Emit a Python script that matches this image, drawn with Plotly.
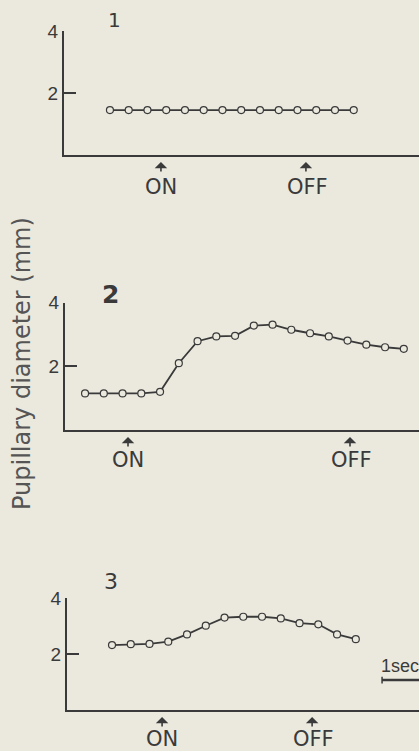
import plotly.graph_objects as go

# ---------------- data ----------------
panel_labels = ["1", "2", "3"]

sample_idx_1 = list(range(14))
diam_1 = [1.45, 1.45, 1.45, 1.45, 1.45, 1.45, 1.45, 1.45, 1.45, 1.45, 1.45, 1.45, 1.45, 1.45]

sample_idx_2 = list(range(18))
diam_2 = [1.15, 1.15, 1.15, 1.15, 1.20, 2.10, 2.79, 2.94, 2.96, 3.28, 3.31, 3.15,
          3.04, 2.94, 2.81, 2.68, 2.60, 2.55]

sample_idx_3 = list(range(14))
diam_3 = [2.32, 2.35, 2.36, 2.44, 2.70, 3.01, 3.30, 3.33, 3.33, 3.27, 3.10, 3.06, 2.70, 2.53]

on_times = [2.72, 2.29, 2.67]
off_times = [10.45, 14.13, 10.67]
y_ticks = [2, 4]
y_tick_text = ["2", "4"]
y_title = "Pupillary diameter (mm)"
scale_label = "1sec"

# ---------------- style ----------------
W, H = 419, 751
BG = "#ebe9de"
INK = "#3a3a3a"
TXT = "#3a3a3a"
FONT = "DejaVu Sans"
TICKFONT = "Liberation Sans"


def py(px):
    return 1 - px / H


def pxx(px):
    return px / W


panels = [
    dict(x=sample_idx_1, y=diam_1, xdom=[pxx(64), 1], ydom=[py(155), py(31)], xr=[-2.45, 16.48], tshift=-32),
    dict(x=sample_idx_2, y=diam_2, xdom=[pxx(65), 1], ydom=[py(430), py(302.7)], xr=[-1.07, 17.81], tshift=-30),
    dict(x=sample_idx_3, y=diam_3, xdom=[pxx(67), 1], ydom=[py(710), py(598)], xr=[-2.40, 16.37], tshift=-29),
]

fig = go.Figure()
layout = dict(
    width=W, height=H,
    margin=dict(l=0, r=0, t=0, b=0, pad=0, autoexpand=False),
    paper_bgcolor=BG, plot_bgcolor=BG,
    showlegend=False,
    annotations=[], shapes=[],
)

for i, p in enumerate(panels):
    n = "" if i == 0 else str(i + 1)
    fig.add_trace(go.Scatter(
        x=p["x"], y=p["y"], xaxis="x" + n, yaxis="y" + n,
        mode="lines+markers",
        line=dict(color=INK, width=1.8),
        marker=dict(symbol="circle", size=7, color=BG, line=dict(color=INK, width=1.2)),
        cliponaxis=False,
    ))
    layout["xaxis" + n] = dict(
        domain=p["xdom"], anchor="y" + n, range=p["xr"],
        showline=True, linecolor=INK, linewidth=2,
        showticklabels=False, ticks="", showgrid=False, zeroline=False,
    )
    layout["yaxis" + n] = dict(
        domain=p["ydom"], anchor="x" + n, range=[0, 4],
        showline=True, linecolor=INK, linewidth=2,
        tickvals=y_ticks, ticktext=y_tick_text, ticks="inside", ticklen=12,
        tickwidth=1.5, tickcolor=INK,
        tickfont=dict(family=TICKFONT, size=19, color=TXT),
        showgrid=False, zeroline=False,
    )
    xref = "x" + n
    yref = "y" + n + " domain"
    for t, lab, off in [(on_times[i], "ON", -18), (off_times[i], "OFF", -21)]:
        layout["annotations"].append(dict(
            x=t, y=0, xref=xref, yref=yref, text="", showarrow=True,
            ax=0, ay=11, arrowhead=1, arrowsize=1.3, arrowwidth=1.6, arrowcolor=INK,
            yshift=-7,
        ))
        layout["annotations"].append(dict(
            x=t, y=0, xref=xref, yref=yref, text=lab, showarrow=False,
            xanchor="left", yanchor="middle", xshift=off, yshift=p["tshift"],
            font=dict(family=FONT, size=21, color=TXT),
        ))

# panel numbers
for lab, (x, y), size, bold in zip(panel_labels, [(115, 20), (110, 294), (111, 581)],
                                   [20, 25, 22], [False, True, False]):
    layout["annotations"].append(dict(
        x=pxx(x), y=py(y), xref="paper", yref="paper",
        text=("<b>%s</b>" % lab) if bold else lab, showarrow=False,
        xanchor="center", yanchor="middle",
        font=dict(family=FONT, size=size, color=TXT),
    ))

# shared y title
layout["annotations"].append(dict(
    x=pxx(22), y=py(364), xref="paper", yref="paper", text=y_title,
    textangle=-90, showarrow=False, xanchor="center", yanchor="middle",
    font=dict(family=FONT, size=24, color="#555555"),
))

# 1 sec scale bar in panel 3
layout["shapes"].append(dict(type="line", xref="x3", yref="y3", x0=14.4, x1=16.37, y0=1.07, y1=1.07,
                             line=dict(color=INK, width=2.6)))
layout["shapes"].append(dict(type="line", xref="x3", yref="y3", x0=14.4, x1=14.4, y0=0.95, y1=1.19,
                             line=dict(color=INK, width=1.5)))
layout["annotations"].append(dict(
    x=14.4, y=1.57, xref="x3", yref="y3", text=scale_label, showarrow=False,
    xanchor="left", yanchor="middle", xshift=-3,
    font=dict(family=TICKFONT, size=18, color=TXT),
))

fig.update_layout(**layout)
fig.write_html("out.html")
